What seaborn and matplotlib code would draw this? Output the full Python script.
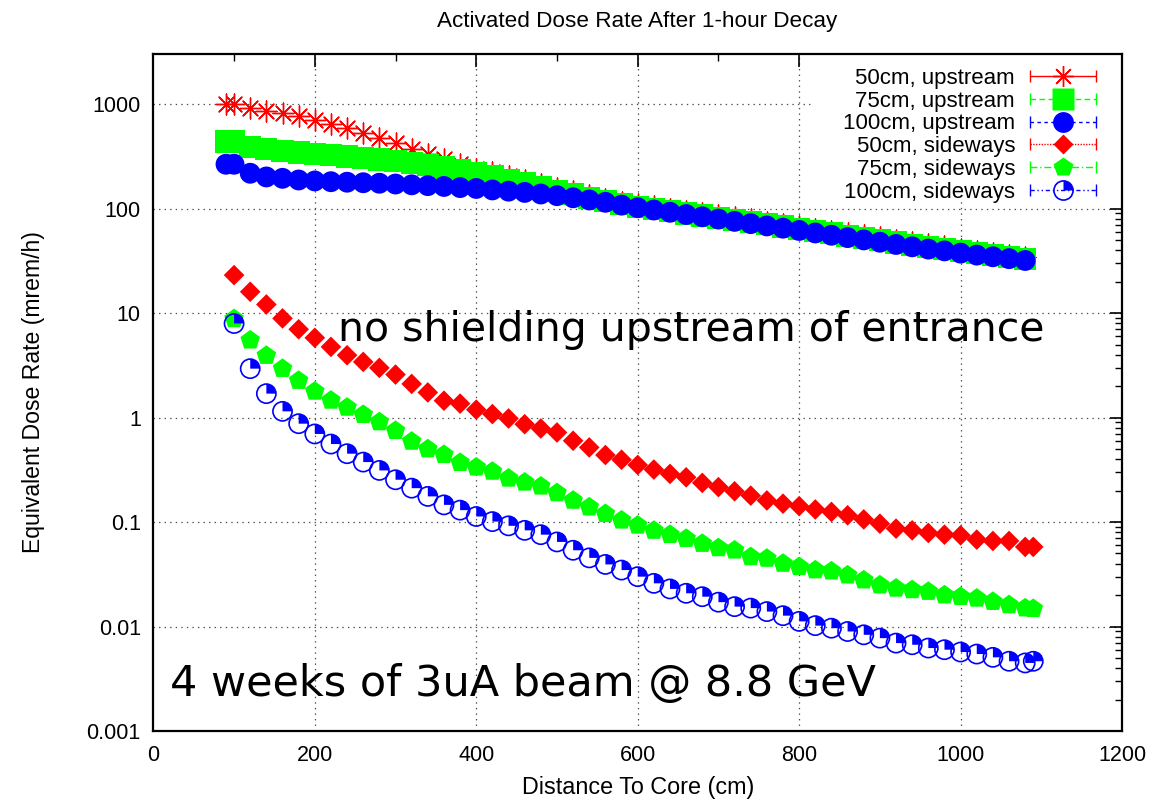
import matplotlib
matplotlib.use("Agg")
import matplotlib.pyplot as plt
import seaborn as sns
from matplotlib.lines import Line2D
from matplotlib.path import Path
from matplotlib.patches import Rectangle
from matplotlib.legend_handler import HandlerLine2D
from matplotlib.ticker import MultipleLocator, FixedLocator, FuncFormatter, NullFormatter

# ---------------- data: dose rate (mrem/h) vs distance to core (cm) ----------------
dist_up = [90, 100, 120, 140, 160, 180, 200, 220, 240, 260, 280, 300, 320, 340, 360, 380,
           400, 420, 440, 460, 480, 500, 520, 540, 560, 580, 600, 620, 640, 660, 680, 700,
           720, 740, 760, 780, 800, 820, 840, 860, 880, 900, 920, 940, 960, 980, 1000,
           1020, 1040, 1060, 1080]

up_50 = [1000, 1000, 915, 863, 814, 762, 707, 650, 589, 527, 472, 423, 373, 337, 300, 268,
         242, 222, 204, 188, 172, 158, 146, 135, 125, 117, 110, 105, 100, 95.5, 91, 87,
         83, 79, 75, 71.5, 68, 64.5, 61.5, 58.5, 55.5, 53, 50.5, 48, 45.5, 43.5, 41.5,
         39.5, 38, 36.3, 34.8]

up_75 = [440, 440, 388, 370, 357, 345, 334, 324, 315, 305, 295, 284, 272, 260, 247, 232,
         217, 203, 189, 175, 161, 148, 137, 127, 118, 110, 104, 99, 94.5, 90, 86, 82,
         78, 74.5, 71, 67.5, 64, 61, 58, 55, 52.5, 50, 47.5, 45, 43, 41, 39,
         37.3, 35.8, 34.2, 32.8]

up_100 = [266, 266, 218, 201, 195, 188, 184, 181, 179, 177, 175, 172, 169, 166, 163, 159,
          156, 151, 147, 143, 138, 133, 127, 121, 115, 108, 102, 97, 92.3, 87.8, 83.5, 79.4,
          75.5, 71.8, 68.3, 65, 61.8, 58.5, 55.6, 52.8, 50.2, 47.7, 45.4, 43.1, 41.0, 39.4, 37.5,
          35.9, 34.6, 33.2, 31.9]

dist_side = [100, 120, 140, 160, 180, 200, 220, 240, 260, 280, 300, 320, 340, 360, 380, 400,
             420, 440, 460, 480, 500, 520, 540, 560, 580, 600, 620, 640, 660, 680, 700, 720,
             740, 760, 780, 800, 820, 840, 860, 880, 900, 920, 940, 960, 980, 1000, 1020,
             1040, 1060, 1080, 1090]

side_50 = [23.1, 16.0, 12.1, 8.9, 7.0, 5.8, 4.75, 3.95, 3.41, 2.99, 2.58, 2.10, 1.74, 1.45,
           1.36, 1.19, 1.08, 0.98, 0.864, 0.786, 0.72, 0.60, 0.518, 0.438, 0.395, 0.352,
           0.318, 0.289, 0.268, 0.237, 0.216, 0.197, 0.179, 0.161, 0.150, 0.142, 0.132,
           0.125, 0.116, 0.106, 0.0964, 0.0865, 0.0833, 0.0786, 0.0757, 0.0746, 0.0679,
           0.0659, 0.0659, 0.0578, 0.0578]

side_75 = [8.8, 5.5, 3.92, 2.94, 2.26, 1.78, 1.46, 1.25, 1.066, 0.907, 0.749, 0.591, 0.500,
           0.441, 0.37, 0.335, 0.305, 0.262, 0.240, 0.220, 0.190, 0.161, 0.139, 0.120,
           0.104, 0.093, 0.083, 0.0757, 0.0694, 0.0622, 0.0565, 0.0537, 0.0464, 0.0448,
           0.0401, 0.0373, 0.0347, 0.0339, 0.0310, 0.0278, 0.0249, 0.0232, 0.0224, 0.0216,
           0.020, 0.0193, 0.0186, 0.0173, 0.0161, 0.0150, 0.0148]

side_100 = [7.95, 2.94, 1.695, 1.147, 0.874, 0.697, 0.558, 0.451, 0.375, 0.312, 0.254, 0.211,
            0.176, 0.146, 0.13, 0.113, 0.101, 0.092, 0.0833, 0.0757, 0.0645, 0.0537, 0.0454,
            0.0393, 0.0347, 0.0300, 0.0259, 0.0229, 0.0208, 0.0193, 0.0171, 0.0155, 0.0150,
            0.0139, 0.0127, 0.0112, 0.0102, 0.00964, 0.00896, 0.00833, 0.00774, 0.00694,
            0.00669, 0.00622, 0.0060, 0.0057, 0.00545, 0.00507, 0.00465, 0.00448, 0.00465]

labels = ["50cm, upstream", "75cm, upstream", "100cm, upstream",
          "50cm, sideways", "75cm, sideways", "100cm, sideways"]

x_ticks = [0, 200, 400, 600, 800, 1000, 1200]
y_decades = [0.001, 0.01, 0.1, 1, 10, 100, 1000]

# ---------------- style ----------------
sns.set_style("white")
plt.rcParams["font.family"] = ["Liberation Sans", "DejaVu Sans"]
plt.rcParams["lines.scale_dashes"] = False
for key in ("text.color", "axes.labelcolor", "xtick.color", "ytick.color"):
    plt.rcParams[key] = "black"

fig = plt.figure(figsize=(11.67, 8.01), dpi=100)
ax = fig.add_axes([0.1314, 0.0874, 0.8301, 0.8448])

asterisk = (8, 2, 0)            # "+" and "x" combined
quarter = Path.wedge(0, 90)     # filled upper-right quadrant

MS_STAR, MS_SQ, MS_CIRC = 15, 16, 15
MS_DIAM, MS_PENT, MS_OPEN = 10.5, 14.8, 13.8

# upstream series
sns.scatterplot(x=dist_up, y=up_50, marker=asterisk, s=MS_STAR**2, color="#ff0000",
                linewidth=1.0, ax=ax, zorder=3)
sns.scatterplot(x=dist_up, y=up_75, marker="s", s=MS_SQ**2, color="#00ff00",
                edgecolor="none", linewidth=0, ax=ax, zorder=3)
sns.scatterplot(x=dist_up, y=up_100, marker="o", s=MS_CIRC**2, color="#0000ff",
                edgecolor="none", linewidth=0, ax=ax, zorder=3)
# sideways series
sns.scatterplot(x=dist_side, y=side_50, marker="D", s=MS_DIAM**2, color="#ff0000",
                edgecolor="none", linewidth=0, ax=ax, zorder=3)
sns.scatterplot(x=dist_side, y=side_75, marker="p", s=MS_PENT**2, color="#00ff00",
                edgecolor="none", linewidth=0, ax=ax, zorder=3)
sns.scatterplot(x=dist_side, y=side_100, marker="o", s=MS_OPEN**2, facecolor="none",
                edgecolor="#0000ff", linewidth=1.2, ax=ax, zorder=3)
sns.scatterplot(x=dist_side, y=side_100, marker=quarter, s=MS_OPEN**2, color="#0000ff",
                edgecolor="none", linewidth=0, ax=ax, zorder=3)

# ---------------- axes ----------------
ax.set_xlim(0, 1200)
ax.set_yscale("log")
ax.set_ylim(1e-3, 3000)
ax.set_xticks(x_ticks)
ax.xaxis.set_minor_locator(MultipleLocator(100))
y_minor = [m * d for d in y_decades for m in range(2, 10) if m * d <= 3000]
ax.yaxis.set_major_locator(FixedLocator(y_decades))
ax.yaxis.set_minor_locator(FixedLocator(y_minor))
ax.yaxis.set_major_formatter(FuncFormatter(lambda v, _: f"{v:g}"))
ax.yaxis.set_minor_formatter(NullFormatter())

ax.tick_params(which="both", direction="in", top=True, right=True, colors="black",
               labelsize=15.5)
ax.tick_params(which="major", length=9, width=1.2)
ax.tick_params(which="minor", length=5, width=1.0, labelbottom=False, labelleft=False)
ax.tick_params(axis="x", which="major", pad=10)
ax.tick_params(axis="y", which="major", pad=9)
for sp in ax.spines.values():
    sp.set_linewidth(1.6)
    sp.set_color("black")
    sp.set_zorder(4)

# dotted grid at the major ticks, kept underneath everything else
ax.grid(False)
grid_kw = dict(color="0.3", linestyle=(0, (1, 3)), linewidth=0.9, zorder=0.5)
for xv in x_ticks[1:-1]:
    ax.axvline(xv, **grid_kw)
for yv in y_decades[1:]:
    ax.axhline(yv, **grid_kw)

# white key area (gnuplot-style key background)
ax.add_patch(Rectangle((0.681, 0.785), 0.318, 0.214, transform=ax.transAxes,
                       facecolor="white", edgecolor="none", zorder=1))

ax.set_xlabel("Distance To Core (cm)", fontsize=16.8)
ax.xaxis.label.set_va("center")
ax.xaxis.set_label_coords(0.5, -0.0828)
ax.set_ylabel("Equivalent Dose Rate (mrem/h)", fontsize=16.6)
ax.yaxis.label.set_va("center")
ax.yaxis.set_label_coords(-0.1242, 0.501)

fig.text(0.5463, 1 - 21 / 801, "Activated Dose Rate After 1-hour Decay",
         ha="center", va="center", fontsize=16.2)

# ---------------- annotations ----------------
ax.text(0.1907, 0.5763, "no shielding upstream of entrance", transform=ax.transAxes,
        fontsize=29.5, family="DejaVu Sans", color="black", ha="left", va="baseline",
        zorder=6)
ax.text(0.0172, 0.0517, "4 weeks of 3uA beam @ 8.8 GeV", transform=ax.transAxes,
        fontsize=31, family="DejaVu Sans", color="black", ha="left", va="baseline",
        zorder=6)

# ---------------- legend (error-bar style samples) ----------------
def cap_line(color, ls):
    return Line2D([], [], color=color, linestyle=ls, linewidth=1.0, marker="|",
                  markersize=9, markeredgewidth=1.0, markeredgecolor=color)

caps = [cap_line("#ff0000", "-"),
        cap_line("#00ff00", (0, (4, 2.5))),
        cap_line("#0000ff", (0, (2.5, 2.5))),
        cap_line("#ff0000", (0, (1, 1))),
        cap_line("#00ff00", (0, (5, 2, 1, 2))),
        cap_line("#0000ff", (0, (3, 2, 1, 2, 1, 2)))]

marks = [
    (Line2D([], [], ls="none", marker=asterisk, ms=MS_STAR, mec="#ff0000", mew=1.0),),
    (Line2D([], [], ls="none", marker="s", ms=MS_SQ, mfc="#00ff00", mec="none"),),
    (Line2D([], [], ls="none", marker="o", ms=MS_CIRC, mfc="#0000ff", mec="none"),),
    (Line2D([], [], ls="none", marker="D", ms=MS_DIAM, mfc="#ff0000", mec="none"),),
    (Line2D([], [], ls="none", marker="p", ms=MS_PENT, mfc="#00ff00", mec="none"),),
    (Line2D([], [], ls="none", marker="o", ms=MS_OPEN, mfc="none", mec="#0000ff", mew=1.2),
     Line2D([], [], ls="none", marker=quarter, ms=MS_OPEN, mfc="#0000ff", mec="none")),
]
handles = [(c,) + m for c, m in zip(caps, marks)]
hmap = {c: HandlerLine2D(numpoints=2, marker_pad=0) for c in caps}

leg = ax.legend(handles=handles, labels=labels, handler_map=hmap, loc="upper right",
                bbox_to_anchor=(0.9825, 0.993), borderaxespad=0, borderpad=0.4,
                frameon=False, markerfirst=False, handlelength=2.97,
                handletextpad=0.68, labelspacing=0.08, fontsize=16, numpoints=1)
leg.set_zorder(5)

fig.savefig("out.png", dpi=100)
